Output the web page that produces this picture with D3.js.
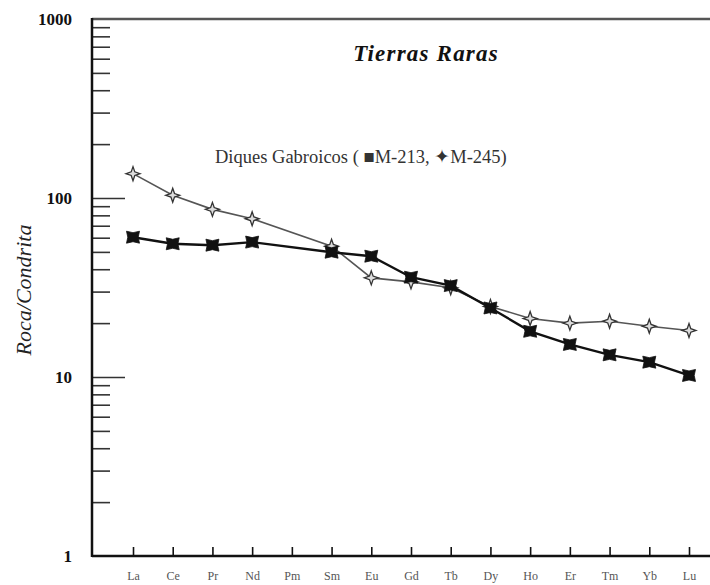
<!DOCTYPE html>
<html>
<head>
<meta charset="utf-8">
<script src="https://cdn.jsdelivr.net/npm/d3@7"></script>
<style>
  body { margin: 0; background: #fff; }
</style>
</head>
<body>
<div id="chart"></div>
<script>
const width = 710;
const height = 585;
const serif = "'Liberation Serif', 'Times New Roman', Times, 'DejaVu Serif', serif";

// Rare earth elements (x axis)
const elements = ["La", "Ce", "Pr", "Nd", "Pm", "Sm", "Eu", "Gd", "Tb", "Dy", "Ho", "Er", "Tm", "Yb", "Lu"];

// Rock / chondrite values (Pm not analysed)
const m213 = [60.4, 55.5, 54.5, 56.7, null, 49.8, 47.3, 36.1, 32.4, 24.3, 18.0, 15.2, 13.3, 12.1, 10.2];
const m245 = [136.8, 103.5, 86.4, 76.6, null, 53.8, 35.8, 34.0, 31.5, 24.8, 21.2, 20.0, 20.5, 19.2, 18.2];

const yMajor = [1, 10, 100, 1000];

const svg = d3.select("#chart")
    .append("svg")
    .attr("width", width)
    .attr("height", height)
    .style("font-family", serif);

const x = d3.scalePoint()
    .domain(elements)
    .range([133, 689]);

const y = d3.scaleLog()
    .domain([1, 1000])
    .range([556, 19]);

const plotLeft = 92;
const plotBottom = y(1);
const plotTop = y(1000);

// minor ticks 2..9 within each decade
const yMinor = [];
[1, 10, 100].forEach(d => {
    for (let k = 2; k <= 9; k++) yMinor.push(d * k);
});

// Minor ticks (inward)
svg.append("g")
    .attr("transform", `translate(${plotLeft},0)`)
    .call(d3.axisRight(y).tickValues(yMinor).tickSize(18).tickFormat(""))
    .call(g => g.select(".domain").remove())
    .call(g => g.selectAll(".tick line").attr("stroke", "#333").attr("stroke-width", 1.6));

// Major ticks (longer)
svg.append("g")
    .attr("transform", `translate(${plotLeft},0)`)
    .call(d3.axisRight(y).tickValues([10, 100]).tickSize(33).tickFormat(""))
    .call(g => g.select(".domain").remove())
    .call(g => g.selectAll(".tick line").attr("stroke", "#333").attr("stroke-width", 1.6));

// Y labels
svg.append("g")
    .attr("transform", `translate(${plotLeft},0)`)
    .call(d3.axisLeft(y).tickValues(yMajor).tickSize(0).tickPadding(20).tickFormat(d3.format("d")))
    .call(g => g.select(".domain").remove())
    .call(g => g.selectAll(".tick text")
        .style("font-family", serif)
        .attr("font-size", 17)
        .attr("font-weight", "bold")
        .attr("fill", "#111"));

// X axis ticks (pointing up) and labels
svg.append("g")
    .attr("transform", `translate(0,${plotBottom})`)
    .call(d3.axisBottom(x).tickSize(-9).tickPadding(15))
    .call(g => g.select(".domain").remove())
    .call(g => g.selectAll(".tick line").attr("stroke", "#111").attr("stroke-width", 1.6))
    .call(g => g.selectAll(".tick text")
        .style("font-family", serif)
        .attr("font-size", 12)
        .attr("fill", "#555"));

// Frame lines
svg.append("line")
    .attr("x1", plotLeft).attr("x2", width)
    .attr("y1", plotTop).attr("y2", plotTop)
    .attr("stroke", "#555").attr("stroke-width", 2.5);
svg.append("line")
    .attr("x1", plotLeft).attr("x2", width)
    .attr("y1", plotBottom).attr("y2", plotBottom)
    .attr("stroke", "#111").attr("stroke-width", 2.5);
svg.append("line")
    .attr("x1", plotLeft).attr("x2", plotLeft)
    .attr("y1", plotTop - 1).attr("y2", plotBottom + 1)
    .attr("stroke", "#111").attr("stroke-width", 2.5);

// Build point arrays (skip missing Pm)
const toPoints = vals => elements
    .map((e, i) => ({ el: e, v: vals[i] }))
    .filter(d => d.v != null);

const pts213 = toPoints(m213);
const pts245 = toPoints(m245);

const line = d3.line()
    .x(d => x(d.el))
    .y(d => y(d.v));

// M-245: thin gray line with 4-point stars
svg.append("path")
    .datum(pts245)
    .attr("d", line)
    .attr("fill", "none")
    .attr("stroke", "#555")
    .attr("stroke-width", 1.6);

// M-213: heavier black line with square markers
svg.append("path")
    .datum(pts213)
    .attr("d", line)
    .attr("fill", "none")
    .attr("stroke", "#111")
    .attr("stroke-width", 2.4);

const starPath = "M0,-7 L1.8,-1.8 L7,0 L1.8,1.8 L0,7 L-1.8,1.8 L-7,0 L-1.8,-1.8 Z";
const squarePath = "M-6.5,-6 L0,-4.5 L6.5,-6 L5.2,0 L6.5,6 L0,4.5 L-6.5,6 L-5.2,0 Z";

svg.append("g")
    .selectAll("path")
    .data(pts245)
    .join("path")
    .attr("transform", d => `translate(${x(d.el)},${y(d.v)})`)
    .attr("d", starPath)
    .attr("fill", "#ddd")
    .attr("stroke", "#333")
    .attr("stroke-width", 1.3);

svg.append("g")
    .selectAll("path")
    .data(pts213)
    .join("path")
    .attr("transform", d => `translate(${x(d.el)},${y(d.v)})`)
    .attr("d", squarePath)
    .attr("fill", "#111")
    .attr("stroke", "#111")
    .attr("stroke-width", 0.8);

// Title
svg.append("text")
    .attr("x", 426)
    .attr("y", 61)
    .attr("text-anchor", "middle")
    .style("font-family", serif)
    .attr("font-size", 23)
    .attr("letter-spacing", 1.2)
    .attr("font-weight", "bold")
    .attr("font-style", "italic")
    .attr("fill", "#111")
    .text("Tierras Raras");

// Legend line
svg.append("text")
    .attr("x", 215)
    .attr("y", 163)
    .style("font-family", serif)
    .attr("font-size", 18.5)
    .attr("fill", "#333")
    .text("Diques Gabroicos ( ■M-213, ✦M-245)");

// Y axis title
svg.append("text")
    .attr("transform", "translate(31,290) rotate(-90)")
    .attr("text-anchor", "middle")
    .style("font-family", serif)
    .attr("font-size", 22)
    .attr("font-style", "italic")
    .attr("fill", "#222")
    .text("Roca/Condrita");
</script>
</body>
</html>
